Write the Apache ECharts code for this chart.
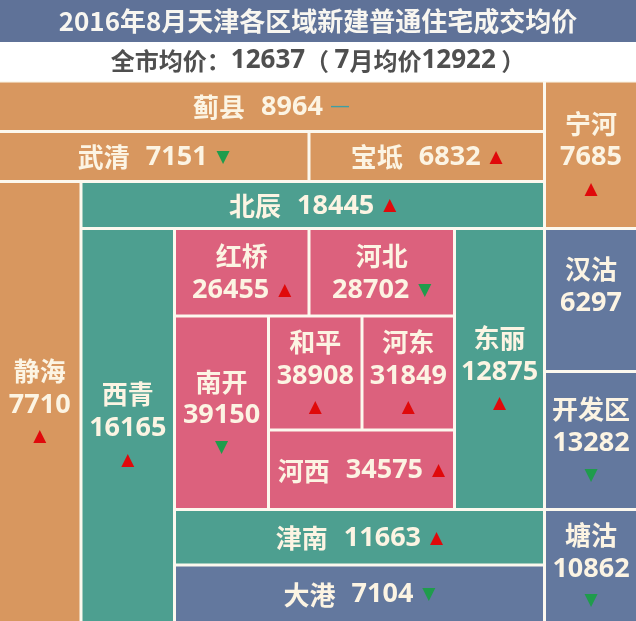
<!DOCTYPE html>
<html>
<head>
<meta charset="utf-8">
<script src="https://cdn.jsdelivr.net/npm/echarts@6/dist/echarts.min.js"></script>
<style>
  html, body { margin: 0; padding: 0; background: #fcf8ee; }
  #chart { width: 636px; height: 621px; }
</style>
</head>
<body>
<div id="chart"></div>
<script>
// 2016年8月 天津各区域新建普通住宅成交均价（元/平方米）
const districts = ['蓟县', '武清', '宝坻', '宁河', '北辰', '静海', '西青', '红桥', '河北', '南开',
                   '和平', '河东', '河西', '东丽', '汉沽', '开发区', '津南', '大港', '塘沽'];
const prices    = [8964, 7151, 6832, 7685, 18445, 7710, 16165, 26455, 28702, 39150,
                   38908, 31849, 34575, 12875, 6297, 13282, 11663, 7104, 10862];
// 环比走势：up 上涨, down 下跌, flat 持平, none 未标注
const trends    = ['flat', 'down', 'up', 'up', 'up', 'up', 'up', 'up', 'down', 'down',
                   'up', 'up', 'up', 'up', 'none', 'down', 'up', 'down', 'down'];
// 区域分组：outer 远郊, ring 环城, core 市内六区, binhai 滨海
const groups    = ['outer', 'outer', 'outer', 'outer', 'ring', 'outer', 'ring', 'core', 'core', 'core',
                   'core', 'core', 'core', 'ring', 'binhai', 'binhai', 'ring', 'binhai', 'binhai'];

const cityAvg = 12637;
const julyAvg = 12922;

// Tile grid: column and row boundary lines of the block map
const colEdges = [0, 81, 174.5, 268.5, 309, 362, 454.5, 544.5, 636];
const rowEdges = [81, 131.5, 181.5, 228.5, 316, 371.5, 430, 509.5, 565, 621];
// Each district spans [col0, col1, row0, row1] in boundary indices
const spans = [
  [0, 7, 0, 1], [0, 4, 1, 2], [4, 7, 1, 2], [7, 8, 0, 3], [1, 7, 2, 3],
  [0, 1, 2, 9], [1, 2, 3, 9], [2, 4, 3, 4], [4, 6, 3, 4], [2, 3, 4, 7],
  [3, 5, 4, 6], [5, 6, 4, 6], [3, 6, 6, 7], [6, 7, 3, 7], [7, 8, 3, 5],
  [7, 8, 5, 7], [2, 7, 7, 8], [2, 7, 8, 9], [7, 8, 7, 9]
];
// Label arrangement per tile
const labelModes = ['inline', 'inline', 'inline', 'stack', 'inline', 'stack', 'stack', 'two', 'two', 'stack',
                    'stack', 'stack', 'inline', 'stack', 'stack', 'stack', 'inline', 'inline', 'stack'];

const groupColors = { outer: '#d8975f', ring: '#4d9f90', core: '#dc617d', binhai: '#63789e' };
const gapColor = '#fcf8ee';
const textColor = '#fcf4e3';
const CJK = '"Noto Sans CJK SC", "Noto Sans", sans-serif';
const NUM = '"Open Sans", "Noto Sans", sans-serif';
const UP = '#e0090b', DOWN = '#1f9c4c', FLAT = '#3e9fa3';

function arrowRich(trend, inline) {
  const s = inline ? '' : 'c';
  if (trend === 'up') return '{up' + s + '|▲}';
  if (trend === 'down') return '{down' + s + '|▼}';
  if (trend === 'flat') return '{flat|—}';
  return '';
}

const seriesData = districts.map((name, i) => ({
  name,
  value: [colEdges[spans[i][0]], colEdges[spans[i][1]], rowEdges[spans[i][2]], rowEdges[spans[i][3]], prices[i]]
}));

function txt(family, size, color, lh, extra) {
  return Object.assign({ fontFamily: family, fontSize: size, fontWeight: 'bold', fill: color, color: color, lineHeight: lh }, extra || {});
}
const rich = {
  n:     txt(CJK, 26, textColor, 34),
  ni:    txt(CJK, 26, textColor, 34, { padding: [0, 16, 0, 0] }),
  v:     txt(NUM, 27, textColor, 34),
  up:    txt('DejaVu Sans', 17, UP, 30, { fontWeight: 'normal', padding: [0, 0, 0, 9] }),
  down:  txt('DejaVu Sans', 17, DOWN, 30, { fontWeight: 'normal', padding: [0, 0, 0, 9] }),
  upc:   txt('DejaVu Sans', 17, UP, 30, { fontWeight: 'normal' }),
  downc: txt('DejaVu Sans', 17, DOWN, 30, { fontWeight: 'normal' }),
  flat:  txt('DejaVu Sans', 20, FLAT, 30, { fontWeight: 'normal', padding: [0, 0, 0, 7] }),
  blank: txt(CJK, 10, textColor, 30)
};

function labelText(i) {
  const name = districts[i];
  const v = String(prices[i]);
  if (labelModes[i] === 'inline') return '{ni|' + name + '}{v|' + v + '}' + arrowRich(trends[i], true);
  if (labelModes[i] === 'two') return '{n|' + name + '}\n{v|' + v + '}' + arrowRich(trends[i], true);
  const a = arrowRich(trends[i], false) || '{blank| }';
  return '{n|' + name + '}\n{v|' + v + '}\n' + a;
}

const option = {
  backgroundColor: gapColor,
  animation: false,
  title: [
    {
      text: '2016年8月天津各区域新建普通住宅成交均价',
      left: 'center', top: 6, padding: 0,
      textStyle: { fontFamily: CJK, fontSize: 26, fontWeight: 'bold', color: '#f8f6f0', lineHeight: 30 }
    },
    {
      text: '{c|全市均价：}{d|' + cityAvg + '}{c|（ }{d|7}{c|月均价}{d|' + julyAvg + '}{c| ）}',
      left: 'center', top: 46, padding: 0,
      textStyle: {
        lineHeight: 30,
        rich: {
          c: { fontFamily: CJK, fontSize: 24, fontWeight: 'bold', color: '#4f4f4f', lineHeight: 30 },
          d: { fontFamily: NUM, fontSize: 26, fontWeight: 'bold', color: '#4f4f4f', lineHeight: 30 }
        }
      }
    }
  ],
  graphic: [
    { type: 'rect', z: -1, shape: { x: 0, y: 0, width: 636, height: 42 }, style: { fill: '#5f7298' } },
    { type: 'rect', z: -1, shape: { x: 0, y: 42, width: 636, height: 39 }, style: { fill: '#ffffff' } }
  ],
  grid: { left: 0, right: 0, top: 0, bottom: 0 },
  xAxis: { type: 'value', min: 0, max: 636, show: false },
  yAxis: { type: 'value', min: 0, max: 621, inverse: true, show: false },
  series: [{
    type: 'custom',
    coordinateSystem: 'cartesian2d',
    data: seriesData,
    renderItem: function (params, api) {
      const i = params.dataIndex;
      const x0v = api.value(0), x1v = api.value(1), y0v = api.value(2), y1v = api.value(3);
      const p0 = api.coord([x0v, y0v]);
      const p1 = api.coord([x1v, y1v]);
      const half = 1.5;
      const left = x0v <= 0 ? p0[0] : p0[0] + half;
      const right = x1v >= 636 ? p1[0] : p1[0] - half;
      const top = p0[1] + half;
      const bottom = y1v >= 621 ? p1[1] : p1[1] - half;
      const cx = (left + right) / 2;
      const cy = (top + bottom) / 2;
      return {
        type: 'group',
        children: [
          {
            type: 'rect',
            shape: { x: left, y: top, width: right - left, height: bottom - top },
            style: { fill: groupColors[groups[i]] }
          },
          {
            type: 'text',
            style: {
              x: cx, y: cy + 1,
              text: labelText(i),
              align: 'center', verticalAlign: 'middle',
              fill: textColor,
              rich: rich
            }
          }
        ]
      };
    }
  }]
};

const chart = echarts.init(document.getElementById('chart'), null, { renderer: 'canvas' });
chart.setOption(option);
</script>
</body>
</html>
